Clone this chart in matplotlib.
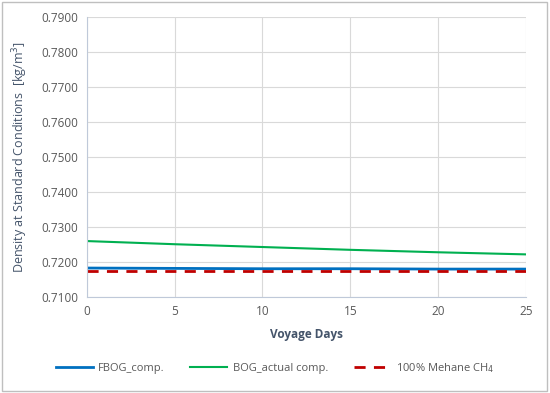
import matplotlib
matplotlib.use("Agg")
import matplotlib.pyplot as plt
from matplotlib.patches import Rectangle

# ── data ──────────────────────────────────────────────────────────────────────
days = [0, 5, 10, 15, 20, 25]
fbog_comp = [0.7183, 0.7182, 0.7181, 0.7181, 0.7180, 0.7180]
bog_actual = [0.7260, 0.7251, 0.7243, 0.7235, 0.7228, 0.7222]
methane = [0.7175, 0.7175, 0.7175, 0.7175, 0.7175, 0.7175]
y_ticks = [0.71, 0.72, 0.73, 0.74, 0.75, 0.76, 0.77, 0.78, 0.79]

plt.rcParams["font.family"] = ["Open Sans", "DejaVu Sans"]
text_col = "#595959"

fig = plt.figure(figsize=(5.5, 3.93), dpi=100)
ax = fig.add_axes([0.158, 0.244, 0.798, 0.713])

ax.plot(days, fbog_comp, color="#0070C0", lw=2.0, label="FBOG_comp.")
ax.plot(days, bog_actual, color="#00B050", lw=1.5, label="BOG_actual comp.")
ax.plot(days, methane, color="#C00000", lw=2.0, ls=(0, (4, 3)),
        label="100% Mehane CH$_4$")

ax.set_xlim(0, 25)
ax.set_ylim(0.71, 0.79)
ax.set_xticks(days)
ax.set_yticks(y_ticks)
ax.set_yticklabels([f"{v:.4f}" for v in y_ticks])
ax.tick_params(colors=text_col, labelsize=8.5, length=0, pad=6)
ax.grid(True, color="#D9D9D9", lw=0.8)
ax.set_axisbelow(True)
for side in ("top", "right"):
    ax.spines[side].set_visible(False)
for side in ("left", "bottom"):
    ax.spines[side].set_color("#BFC9D9")

ax.set_xlabel("Voyage Days", color="#44546A", fontsize=8.5, fontweight="bold", labelpad=7)
ax.set_ylabel("Density at Standard Conditions  [kg/m$^3$]", color="#44546A", fontsize=9, labelpad=8)

fig.legend(loc="lower center", bbox_to_anchor=(0.5, 0.02), ncol=3, frameon=False,
           fontsize=8, labelcolor=text_col, handlelength=3.3, handletextpad=0.5,
           columnspacing=2.3)

fig.patches.append(Rectangle((0.004, 0.005), 0.99, 0.99, transform=fig.transFigure,
                             fill=False, edgecolor="#BFBFBF", lw=1))

fig.savefig("out.png", dpi=100)
